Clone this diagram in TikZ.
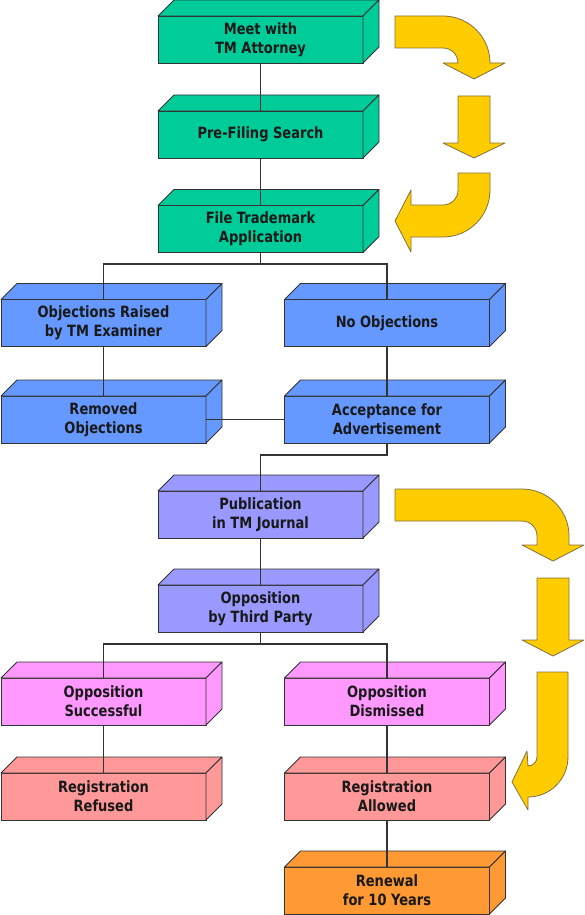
\documentclass[tikz,border=0pt]{standalone}
\usepackage{fontspec}
\setmainfont{DejaVu Sans}[FakeStretch=0.84]
\usepackage{tikz}

\definecolor{stepgreen}{RGB}{0,204,153}
\definecolor{stepblue}{RGB}{102,153,255}
\definecolor{steplilac}{RGB}{153,153,255}
\definecolor{steppink}{RGB}{255,153,255}
\definecolor{steprose}{RGB}{255,153,153}
\definecolor{steporange}{RGB}{255,153,51}
\definecolor{flowyellow}{RGB}{255,204,0}
\definecolor{flowedge}{RGB}{128,112,64}
\definecolor{boxedge}{RGB}{51,51,51}

\tikzset{
    stage/.style={rectangle, draw=boxedge, line width=0.8pt, fill=#1, outer sep=0pt,
        minimum width=205pt, minimum height=47pt, inner sep=0pt, align=center,
        text=black!90, font=\fontsize{15.5}{19}\selectfont\bfseries},
    face/.style={draw=boxedge, line width=0.8pt, line join=round, fill=#1},
    link/.style={draw=boxedge, line width=1.2pt},
    flow/.style={draw=flowedge, line width=0.8pt, line join=round, fill=flowyellow}
}

\begin{document}
\begin{tikzpicture}[x=1pt, y=-1pt]
\useasboundingbox (0,0) rectangle (585,915);
\path (260.5,39.5) node[stage=stepgreen](meet){Meet with\\TM Attorney}
    (260.5,134.5) node[stage=stepgreen](search){Pre-Filing Search}
    (260.5,229) node[stage=stepgreen](file){File Trademark\\Application}
    (103.5,323) node[stage=stepblue](raised){Objections Raised\\by TM Examiner}
    (387,323) node[stage=stepblue](noobj){No Objections}
    (103.5,419.5) node[stage=stepblue](removed){Removed\\Objections}
    (387,419.5) node[stage=stepblue](accept){Acceptance for\\Advertisement}
    (260.5,514.5) node[stage=steplilac](publish){Publication\\in TM Journal}
    (260.5,608.5) node[stage=steplilac](oppose){Opposition\\by Third Party}
    (103.5,701.5) node[stage=steppink](success){Opposition\\Successful}
    (387,701.5) node[stage=steppink](dismiss){Opposition\\Dismissed}
    (103.5,796.5) node[stage=steprose](refused){Registration\\Refused}
    (387,796.5) node[stage=steprose](allowed){Registration\\Allowed}
    (387,890.5) node[stage=steporange](renew){Renewal\\for 10 Years};

\foreach \n/\c in {meet/stepgreen, search/stepgreen, file/stepgreen,
    raised/stepblue, noobj/stepblue, removed/stepblue, accept/stepblue,
    publish/steplilac, oppose/steplilac, success/steppink, dismiss/steppink,
    refused/steprose, allowed/steprose, renew/steporange}
{
    \filldraw[face=\c] (\n.north west) -- ++(16,-16) -- ([shift={(16,-16)}]\n.north east) -- (\n.north east) -- cycle;
    \filldraw[face=\c] (\n.north east) -- ++(16,-16) -- ([shift={(16,-16)}]\n.south east) -- (\n.south east) -- cycle;
}

\coordinate (fork1) at (260.5,264);
\coordinate (join1) at (387,455);
\coordinate (fork2) at (260.5,644);

\draw[link] (meet.south) -- (search.north);
\draw[link] (search.south) -- (file.north);
\draw[link] (file.south) -- (fork1) -| (raised.north);
\draw[link] (fork1) -| (noobj.north);
\draw[link] (raised.south) -- (removed.north);
\draw[link] (noobj.south) -- (accept.north);
\draw[link] (removed.east) -- (accept.west);
\draw[link] (accept.south) -- (join1) -| (publish.north);
\draw[link] (publish.south) -- (oppose.north);
\draw[link] (oppose.south) -- (fork2) -| (success.north);
\draw[link] (fork2) -| (dismiss.north);
\draw[link] (success.south) -- (refused.north);
\draw[link] (dismiss.south) -- (allowed.north);
\draw[link] (allowed.south) -- (renew.north);

\filldraw[flow] (395,16) -- (443,16) arc[start angle=-90, end angle=0, radius=47]
    -- (505,63) -- (474,79) -- (443,63) -- (458,63)
    arc[start angle=0, end angle=-90, radius=15] -- (395,48) -- cycle;
\filldraw[flow] (458,96) -- (490,96) -- (490,143) -- (505,143) -- (474,158)
    -- (443,143) -- (458,143) -- cycle;
\filldraw[flow] (458,173) -- (490,173) -- (490,190) arc[start angle=0, end angle=90, radius=47]
    -- (411,237) -- (411,252) -- (395,221) -- (411,190) -- (411,205) -- (443,205)
    arc[start angle=90, end angle=0, radius=15] -- cycle;

\filldraw[flow] (395,489) -- (522,489) arc[start angle=-90, end angle=0, radius=47]
    -- (569,545) -- (584,545) -- (553,561) -- (522,545) -- (537,545) -- (537,536)
    arc[start angle=0, end angle=-90, radius=15] -- (395,521) -- cycle;
\filldraw[flow] (537,578) -- (569,578) -- (569,640) -- (584,640) -- (553,656)
    -- (522,640) -- (537,640) -- cycle;
\filldraw[flow] (537,672) -- (568,672) -- (568,757) arc[start angle=0, end angle=90, radius=40]
    -- (528,810) -- (512,782) -- (527,751) -- (528,766)
    arc[start angle=90, end angle=0, radius=9] -- cycle;
\end{tikzpicture}
\end{document}
